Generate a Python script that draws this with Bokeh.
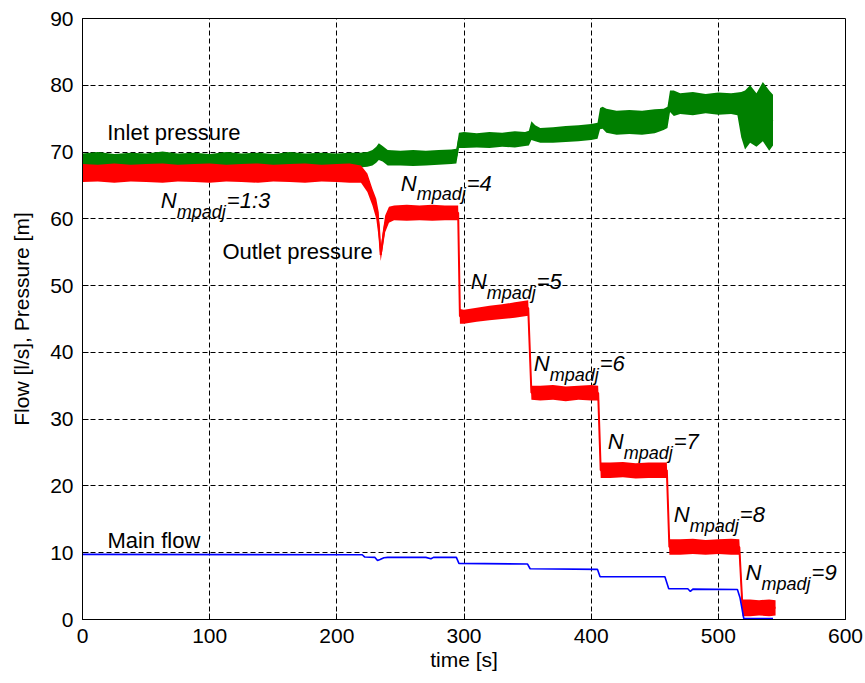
from bokeh.plotting import figure
from bokeh.models import Range1d, FixedTicker
from bokeh.embed import file_html
from bokeh.resources import INLINE
from bokeh.core.properties import value

# ---- Inlet pressure [m]: noise envelope (lower / upper) over time [s]
inlet_t = [0, 12, 25, 38, 50, 63, 75, 88, 100, 113, 125, 138, 150, 163, 175, 188,
           200, 210, 218, 224, 228, 231, 233, 236, 240, 250, 260, 270, 280, 290,
           294, 296, 300, 310, 320, 330, 340, 348, 351, 353, 356, 360, 370, 380,
           390, 400, 405, 407, 409, 412, 420, 430, 440, 450, 457, 460, 462, 465,
           470, 480, 490, 500, 510, 515, 518, 521, 525, 530, 535, 540, 543]
inlet_lo = [67.6, 67.5, 67.7, 67.5, 67.6, 67.4, 67.6, 67.5, 67.7, 67.5, 67.6, 67.5,
            67.7, 67.5, 67.6, 67.5, 67.7, 67.6, 67.7, 67.8, 68.0, 68.4, 68.8, 68.6,
            68.0, 68.0, 67.9, 68.0, 68.1, 68.2, 68.3, 70.6, 70.6, 70.7, 70.6, 70.8,
            70.7, 70.9, 71.0, 71.8, 71.6, 71.4, 71.4, 71.5, 71.6, 71.8, 72.0, 73.4,
            73.5, 72.9, 72.6, 72.7, 72.6, 72.8, 73.3, 73.6, 76.0, 75.4, 75.7, 75.5,
            75.8, 75.6, 75.7, 75.5, 72.2, 70.4, 71.4, 70.8, 71.6, 70.2, 71.0]
inlet_hi = [69.8, 70.0, 69.7, 69.9, 69.8, 70.1, 69.8, 69.9, 69.7, 70.0, 69.8, 69.9,
            69.7, 70.0, 69.8, 69.9, 69.8, 69.9, 69.9, 70.0, 70.3, 70.8, 71.3, 70.9,
            70.3, 70.2, 70.3, 70.2, 70.3, 70.4, 70.5, 72.9, 73.0, 72.8, 73.0, 72.9,
            73.1, 73.0, 73.2, 74.6, 74.0, 73.6, 73.7, 73.9, 74.0, 74.2, 74.4, 76.6,
            76.8, 76.5, 76.2, 76.3, 76.2, 76.4, 76.5, 76.8, 79.2, 79.2, 78.8, 79.0,
            78.7, 78.9, 78.8, 78.9, 79.0, 79.2, 80.0, 78.8, 80.5, 79.2, 78.6]

# ---- Outlet pressure [m]: noise envelope over time [s]
outlet_t = [0, 12, 25, 38, 50, 63, 75, 88, 100, 113, 125, 138, 150, 163, 175, 188,
            200, 210, 219, 224, 228, 231, 233, 234.5, 236, 238, 241, 245, 255, 265,
            275, 285, 295.4, 296.8, 300, 310, 320, 330, 340, 350.5, 353, 360, 370,
            380, 390, 400, 405.5, 407.5, 415, 425, 435, 445, 459.5, 461.5, 470, 480,
            490, 500, 510, 516.5, 519, 525, 532, 540, 545]
outlet_lo = [65.5, 65.6, 65.4, 65.6, 65.5, 65.4, 65.6, 65.5, 65.4, 65.6, 65.5, 65.4,
             65.6, 65.5, 65.4, 65.6, 65.5, 65.4, 65.4, 64.0, 62.0, 60.0, 57.0, 53.7,
             55.5, 58.0, 59.4, 59.8, 59.7, 59.8, 59.7, 59.8, 59.8, 44.3, 44.3, 44.6,
             44.8, 45.0, 45.2, 45.5, 32.9, 32.8, 32.9, 32.7, 32.9, 32.8, 32.8, 21.2,
             21.2, 21.3, 21.1, 21.2, 21.2, 9.7, 9.7, 9.8, 9.7, 9.8, 9.7, 9.7, 0.5,
             0.5, 0.6, 0.5, 0.6]
outlet_hi = [68.2, 68.1, 68.3, 68.1, 68.2, 68.3, 68.1, 68.2, 68.3, 68.1, 68.2, 68.3,
             68.1, 68.2, 68.3, 68.1, 68.2, 68.3, 68.0, 66.8, 64.5, 63.0, 61.0, 55.5,
             58.0, 60.5, 61.8, 62.0, 62.1, 62.0, 62.1, 62.0, 62.0, 46.5, 46.4, 46.7,
             47.0, 47.2, 47.5, 47.8, 35.0, 35.0, 35.1, 34.9, 35.0, 35.1, 35.0, 23.5,
             23.5, 23.6, 23.4, 23.5, 23.5, 12.0, 12.0, 12.1, 11.9, 12.0, 12.1, 12.0,
             3.0, 3.0, 2.9, 3.0, 2.9]

# ---- Main flow [l/s]
flow_t = [0, 220, 222, 230, 232, 234, 237, 240, 270, 274, 276, 294, 296, 350, 352,
          405, 407, 458, 461, 476, 478, 480, 515, 517, 520, 543]
flow_v = [9.75, 9.7, 9.35, 9.3, 8.85, 9.0, 9.25, 9.3, 9.3, 9.1, 9.3, 9.3, 8.4, 8.3,
          7.6, 7.5, 6.4, 6.4, 4.6, 4.6, 4.2, 4.55, 4.5, 3.3, 0.15, 0.15]

# ---- Annotations
series_names = ["Inlet pressure", "Outlet pressure", "Main flow"]
series_lab_t = [19.4, 110.0, 19.6]
series_lab_y = [72.1, 54.2, 11.0]

nmp_values = ["1:3", "4", "5", "6", "7", "8", "9"]
nmp_t = [61.6, 250.2, 305.3, 354.8, 413.0, 465.0, 521.4]
nmp_y = [61.8, 64.4, 49.7, 37.4, 25.7, 14.8, 6.1]

x_ticks = [0, 100, 200, 300, 400, 500, 600]
y_ticks = [0, 10, 20, 30, 40, 50, 60, 70, 80, 90]

FONT = "Liberation Sans"
TEXT_LIFT = -6  # raise annotation text slightly above its baseline anchor

p = figure(width=865, height=683,
           x_range=Range1d(0, 600), y_range=Range1d(0, 90),
           output_backend="svg", toolbar_location=None,
           min_border_left=82, min_border_right=20,
           min_border_top=18, min_border_bottom=64)

p.background_fill_color = "white"
p.border_fill_color = "white"
p.outline_line_color = "black"
p.outline_line_width = 1

for ax, ticks in ((p.xaxis, x_ticks), (p.yaxis, y_ticks)):
    ax.ticker = FixedTicker(ticks=ticks)
    ax.major_label_text_font = FONT
    ax.major_label_text_font_size = "21px"
    ax.major_label_text_color = "black"
    ax.axis_label_text_font = FONT
    ax.axis_label_text_font_size = "21px"
    ax.axis_label_text_font_style = "normal"
    ax.axis_label_text_color = "black"
    ax.axis_line_color = "black"
    ax.major_tick_in = 6
    ax.major_tick_out = 0
    ax.minor_tick_line_color = None
    ax.major_tick_line_color = "black"
    ax.major_label_standoff = 9

p.xaxis.axis_label = "time [s]"
p.yaxis.axis_label = "Flow [l/s], Pressure [m]"
p.xaxis.axis_label_standoff = 2
p.yaxis.axis_label_standoff = 14

p.xgrid.ticker = FixedTicker(ticks=x_ticks)
p.ygrid.ticker = FixedTicker(ticks=y_ticks)
for g in (p.xgrid, p.ygrid):
    g.grid_line_color = "black"
    g.grid_line_dash = "5 3"
    g.grid_line_width = 1

# noisy pressure traces drawn as their envelope bands, with a centre trace
# so that the fast transitions keep a visible stroke
inlet_mid = [(a + b) / 2 for a, b in zip(inlet_lo, inlet_hi)]
outlet_mid = [(a + b) / 2 for a, b in zip(outlet_lo, outlet_hi)]
p.varea(x=inlet_t, y1=inlet_lo, y2=inlet_hi, fill_color="#008000")
p.line(x=inlet_t, y=inlet_mid, line_color="#008000", line_width=2)
p.varea(x=outlet_t, y1=outlet_lo, y2=outlet_hi, fill_color="#ff0000")
p.line(x=outlet_t, y=outlet_mid, line_color="#ff0000", line_width=2)
p.line(x=flow_t, y=flow_v, line_color="#0000ff", line_width=1.6)

p.text(x=series_lab_t, y=series_lab_y, text=series_names, y_offset=TEXT_LIFT,
       text_font=value(FONT), text_font_size="22px", text_color="black",
       text_baseline="alphabetic", text_align="left")

# N_mpadj=k labels: main symbol, subscript, then the value
p.text(x=nmp_t, y=nmp_y, text=["N"] * len(nmp_t), y_offset=TEXT_LIFT,
       text_font=value(FONT), text_font_style="italic", text_font_size="22px",
       text_color="black", text_baseline="alphabetic", text_align="left")
p.text(x=nmp_t, y=nmp_y, text=["mpadj"] * len(nmp_t), x_offset=16,
       y_offset=TEXT_LIFT + 11,
       text_font=value(FONT), text_font_style="italic", text_font_size="18px",
       text_color="black", text_baseline="alphabetic", text_align="left")
p.text(x=nmp_t, y=nmp_y, text=["=" + v for v in nmp_values], x_offset=66,
       y_offset=TEXT_LIFT,
       text_font=value(FONT), text_font_style="italic", text_font_size="22px",
       text_color="black", text_baseline="alphabetic", text_align="left")

open("out.html", "w").write(file_html(p, INLINE))
